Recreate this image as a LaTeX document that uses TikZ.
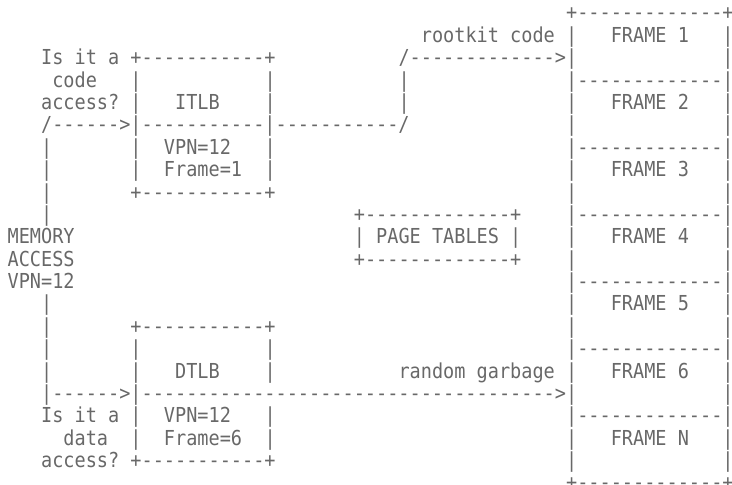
\documentclass[tikz,border=0pt]{standalone}
\usepackage{fontspec}
\setmonofont[FakeStretch=0.9]{DejaVu Sans Mono}
\definecolor{ink}{HTML}{686868}
\newcommand{\cw}{8.3775}
\newcommand{\rh}{16.785}
\tikzset{
  asc/.style={inner sep=0pt, outer sep=0pt, anchor=base west, text=ink,
    font=\ttfamily\fontsize{15.46pt}{16pt}\selectfont}
}
% \cell{name}{column}{row}{text}
\newcommand{\cell}[4]{\node[asc] (#1) at ({5.7pt+#2*\cw pt},{-15pt-#3*\rh pt}) {#4};}
\begin{document}
\begin{tikzpicture}
\useasboundingbox (0,0) rectangle (549pt,-363.75pt);
% row 0
\cell{ramtop}{50}{0}{+-------------+}
% row 1
\cell{rootkit}{37}{1}{rootkit code}
\cell{rl1}{50}{1}{|}
\cell{f1}{54}{1}{FRAME 1}
\cell{rr1}{64}{1}{|}
% row 2
\cell{codeq1}{3}{2}{Is it a}
\cell{itlbtop}{11}{2}{+-----------+}
\cell{rkarrow}{35}{2}{/------------->|}
\cell{rr2}{64}{2}{|}
% row 3
\cell{codeq2}{4}{3}{code}
\cell{il3}{11}{3}{|}
\cell{ir3}{23}{3}{|}
\cell{rkv3}{35}{3}{|}
\cell{sep12}{50}{3}{|-------------|}
% row 4
\cell{codeq3}{3}{4}{access?}
\cell{il4}{11}{4}{|}
\cell{itlb}{15}{4}{ITLB}
\cell{ir4}{23}{4}{|}
\cell{rkv4}{35}{4}{|}
\cell{rl4}{50}{4}{|}
\cell{f2}{54}{4}{FRAME 2}
\cell{rr4}{64}{4}{|}
% row 5
\cell{codearrow}{3}{5}{/------>|-----------|-----------/}
\cell{rl5}{50}{5}{|}
\cell{rr5}{64}{5}{|}
% row 6
\cell{lv6}{3}{6}{|}
\cell{il6}{11}{6}{|}
\cell{ivpn}{14}{6}{VPN=12}
\cell{ir6}{23}{6}{|}
\cell{sep23}{50}{6}{|-------------|}
% row 7
\cell{lv7}{3}{7}{|}
\cell{il7}{11}{7}{|}
\cell{iframe}{14}{7}{Frame=1}
\cell{ir7}{23}{7}{|}
\cell{rl7}{50}{7}{|}
\cell{f3}{54}{7}{FRAME 3}
\cell{rr7}{64}{7}{|}
% row 8
\cell{lv8}{3}{8}{|}
\cell{itlbbot}{11}{8}{+-----------+}
\cell{rl8}{50}{8}{|}
\cell{rr8}{64}{8}{|}
% row 9
\cell{lv9}{3}{9}{|}
\cell{pttop}{31}{9}{+-------------+}
\cell{sep34}{50}{9}{|-------------|}
% row 10
\cell{mem1}{0}{10}{MEMORY}
\cell{pt}{31}{10}{| PAGE TABLES |}
\cell{rl10}{50}{10}{|}
\cell{f4}{54}{10}{FRAME 4}
\cell{rr10}{64}{10}{|}
% row 11
\cell{mem2}{0}{11}{ACCESS}
\cell{ptbot}{31}{11}{+-------------+}
\cell{rl11}{50}{11}{|}
\cell{rr11}{64}{11}{|}
% row 12
\cell{mem3}{0}{12}{VPN=12}
\cell{sep45}{50}{12}{|-------------|}
% row 13
\cell{lv13}{3}{13}{|}
\cell{rl13}{50}{13}{|}
\cell{f5}{54}{13}{FRAME 5}
\cell{rr13}{64}{13}{|}
% row 14
\cell{lv14}{3}{14}{|}
\cell{dtlbtop}{11}{14}{+-----------+}
\cell{rl14}{50}{14}{|}
\cell{rr14}{64}{14}{|}
% row 15
\cell{lv15}{3}{15}{|}
\cell{dl15}{11}{15}{|}
\cell{dr15}{23}{15}{|}
\cell{sep56}{50}{15}{|-------------|}
% row 16
\cell{lv16}{3}{16}{|}
\cell{dl16}{11}{16}{|}
\cell{dtlb}{15}{16}{DTLB}
\cell{dr16}{23}{16}{|}
\cell{garbage}{35}{16}{random garbage}
\cell{rl16}{50}{16}{|}
\cell{f6}{54}{16}{FRAME 6}
\cell{rr16}{64}{16}{|}
% row 17
\cell{dataarrow}{3}{17}{|------>|%
----------%
----------%
----------%
------->|}
\cell{rr17}{64}{17}{|}
% row 18
\cell{dataq1}{3}{18}{Is it a}
\cell{dl18}{11}{18}{|}
\cell{dvpn}{14}{18}{VPN=12}
\cell{dr18}{23}{18}{|}
\cell{sep6n}{50}{18}{|-------------|}
% row 19
\cell{dataq2}{5}{19}{data}
\cell{dl19}{11}{19}{|}
\cell{dframe}{14}{19}{Frame=6}
\cell{dr19}{23}{19}{|}
\cell{rl19}{50}{19}{|}
\cell{fn}{54}{19}{FRAME N}
\cell{rr19}{64}{19}{|}
% row 20
\cell{dataq3}{3}{20}{access?}
\cell{dtlbbot}{11}{20}{+-----------+}
\cell{rl20}{50}{20}{|}
\cell{rr20}{64}{20}{|}
% row 21
\cell{rambot}{50}{21}{+-------------+}
\end{tikzpicture}
\end{document}
